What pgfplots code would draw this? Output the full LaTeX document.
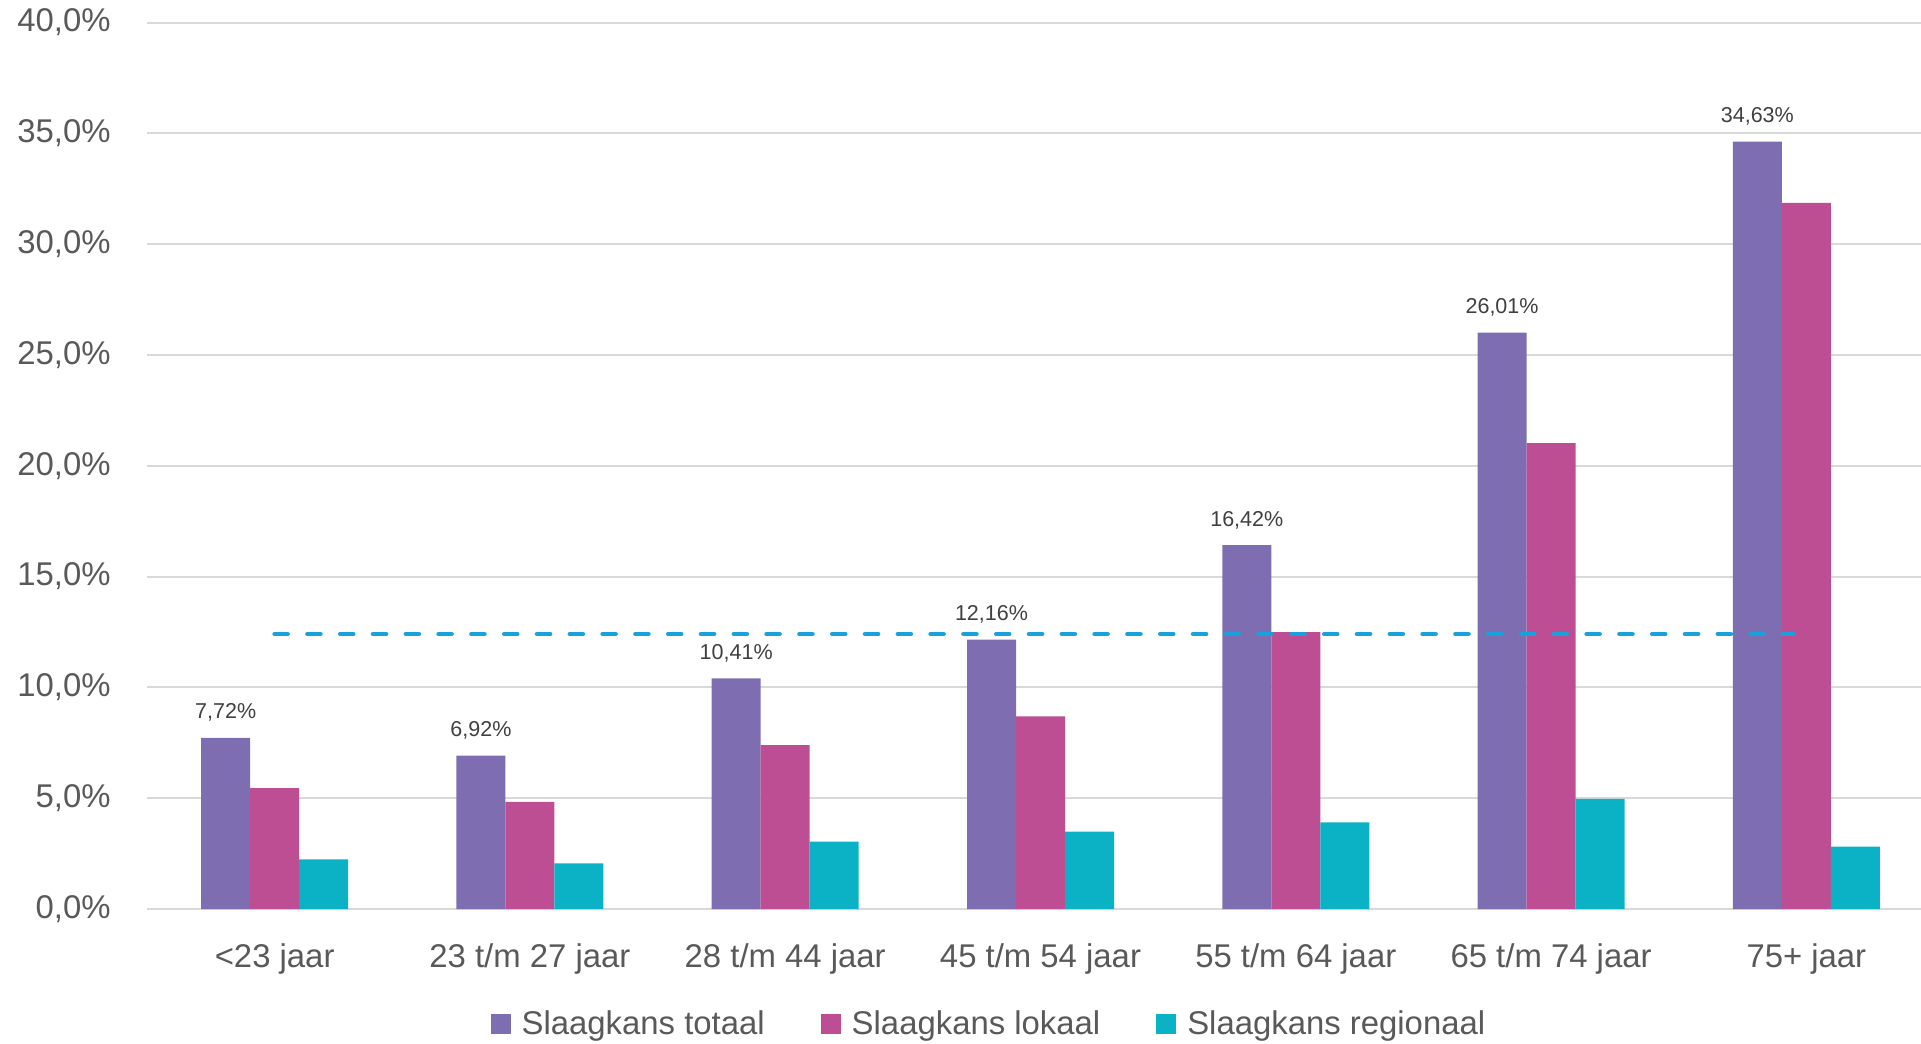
\documentclass[border=0pt]{standalone}
\usepackage{pgfplots}
\pgfplotsset{compat=1.18}
\usepackage{fontspec}
\setmainfont{Liberation Sans}

\definecolor{ctotaal}{HTML}{7E6EB1}
\definecolor{clokaal}{HTML}{BD4E93}
\definecolor{cregio}{HTML}{0BB2C6}
\definecolor{cgem}{HTML}{17A2DC}
\definecolor{ctick}{HTML}{595959}
\definecolor{clabel}{HTML}{404040}
\definecolor{cgrid}{HTML}{D9D9D9}

% leeftijdsgroep 0..6
\pgfplotstableread{
x totaal lokaal regionaal
0 7.72  5.45  2.24
1 6.92  4.83  2.06
2 10.41 7.40  3.04
3 12.16 8.69  3.49
4 16.42 12.49 3.91
5 26.01 21.02 4.97
6 34.63 31.86 2.82
}\slaagkans

\begin{document}
\begin{tikzpicture}
\path[use as bounding box] (-73.5bp,-67.5bp) rectangle (887bp,454.5bp);
\begin{axis}[
    at={(0,0)}, anchor=south west,
    scale only axis,
    width=893.5bp, height=443.2bp,
    xmin=-0.5, xmax=6.5,
    ymin=0, ymax=40,
    ytick={0,5,...,40},
    xtick={0,...,6},
    xticklabels={<23 jaar, 23 t/m 27 jaar, 28 t/m 44 jaar, 45 t/m 54 jaar, 55 t/m 64 jaar, 65 t/m 74 jaar, 75+ jaar},
    major tick length=0pt,
    axis line style={draw=none},
    ymajorgrids,
    grid style={cgrid, line width=1bp},
    /pgf/number format/assume math mode=true,
    yticklabel={\pgfmathprintnumber[fixed,fixed zerofill,precision=1,use comma]{\tick}\%},
    yticklabel style={anchor=east, inner sep=0pt, xshift=-18bp, font=\fontsize{16.5}{19}\selectfont, text=ctick},
    xticklabel style={anchor=base, inner sep=0pt, yshift=-29bp, font=\fontsize{16.5}{19}\selectfont, text=ctick},
    legend columns=3,
    legend style={at={(0.4706,-0.1297)}, anchor=center, draw=none, fill=none,
        font=\fontsize{16.5}{19}\selectfont, text=ctick,
        /tikz/every even column/.append style={column sep=28bp},
        nodes={inner sep=0pt}},
    legend image code/.code={\fill[#1] (0bp,-5bp) rectangle (10bp,5bp); \path (15.5bp,0bp);},
]
\addplot[ybar, bar width=24.5bp, bar shift=-24.5bp, fill=ctotaal, draw=none,
    nodes near coords={\pgfmathprintnumber[fixed,fixed zerofill,precision=2,use comma]{\pgfplotspointmeta}\%},
    every node near coord/.append style={anchor=base, inner sep=0pt, xshift=-24.5bp, yshift=9.5bp, font=\fontsize{10.8}{13}\selectfont, text=clabel}]
    table[x=x, y=totaal] {\slaagkans};
\addlegendentry{Slaagkans totaal}
\addplot[ybar, bar width=24.5bp, bar shift=0bp, fill=clokaal, draw=none]
    table[x=x, y=lokaal] {\slaagkans};
\addlegendentry{Slaagkans lokaal}
\addplot[ybar, bar width=24.5bp, bar shift=24.5bp, fill=cregio, draw=none]
    table[x=x, y=regionaal] {\slaagkans};
\addlegendentry{Slaagkans regionaal}
% gemiddelde
\addplot[sharp plot, cgem, line width=2.3bp, line cap=round, dash pattern=on 6.5bp off 9.9bp, forget plot]
    coordinates {(0,12.41) (5.95,12.41)};
\end{axis}
\end{tikzpicture}
\end{document}
